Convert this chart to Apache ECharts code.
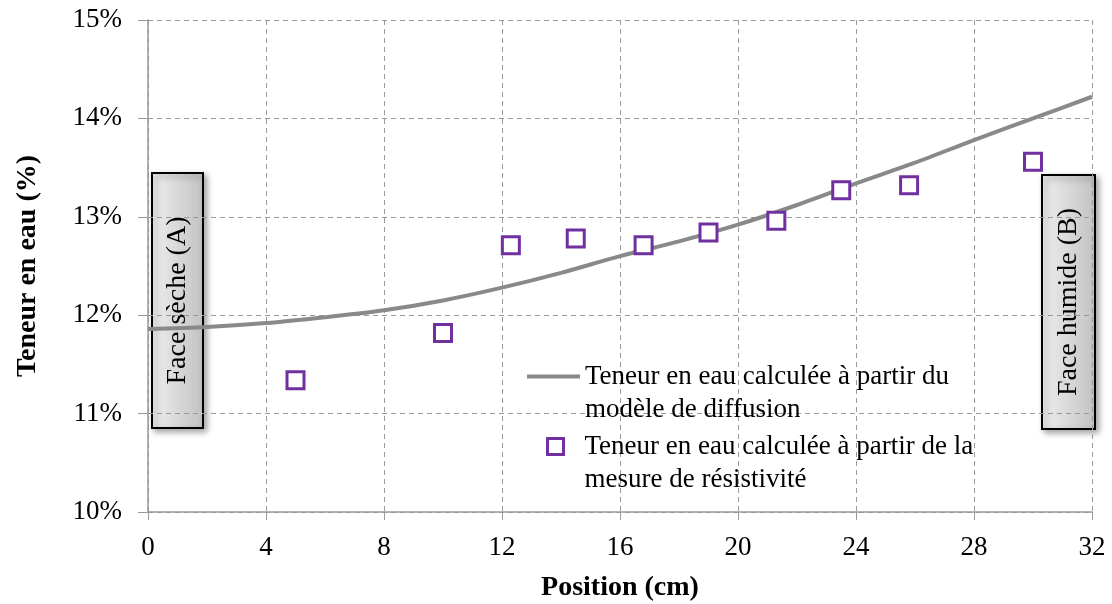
<!DOCTYPE html>
<html>
<head>
<meta charset="utf-8">
<script src="https://cdn.jsdelivr.net/npm/echarts@6/dist/echarts.min.js"></script>
<style>
html,body{margin:0;padding:0;background:#fff;}
#chart{width:1112px;height:604px;}
</style>
</head>
<body>
<div id="chart"></div>
<script>
// Diffusion-model curve (position cm, water content %)
const modelX = [0, 2, 4, 6, 8, 10, 12, 14, 16, 18, 20, 22, 24, 26, 28, 30, 32];
const modelY = [11.86, 11.88, 11.92, 11.98, 12.05, 12.15, 12.28, 12.43, 12.60, 12.75, 12.92, 13.12, 13.34, 13.55, 13.78, 14.00, 14.22];
// Resistivity measurements
const measX = [5, 10, 12.3, 14.5, 16.8, 19, 21.3, 23.5, 25.8, 30];
const measY = [11.34, 11.82, 12.71, 12.78, 12.71, 12.84, 12.96, 13.27, 13.32, 13.56];

const nameModel = 'Teneur en eau calculée à partir du\nmodèle de diffusion';
const nameMeas = 'Teneur en eau calculée à partir de la\nmesure de résistivité';
const labelA = 'Face sèche (A)';
const labelB = 'Face humide (B)';

const FONT = 'Liberation Serif';
const chart = echarts.init(document.getElementById('chart'));

function faceBox(x, y, w, h, text) {
  return {
    type: 'group',
    z: 100,
    children: [
      {
        type: 'rect',
        shape: { x: x, y: y, width: w, height: h },
        style: {
          fill: new echarts.graphic.LinearGradient(0, 0, 1, 0, [
            { offset: 0, color: '#efefef' },
            { offset: 1, color: '#c2c2c2' }
          ]),
          stroke: '#000',
          lineWidth: 2,
          shadowBlur: 6,
          shadowOffsetX: 3,
          shadowOffsetY: 3,
          shadowColor: 'rgba(0,0,0,0.35)'
        }
      },
      {
        type: 'text',
        x: x + w / 2,
        y: y + h / 2,
        rotation: Math.PI / 2,
        style: {
          text: text,
          fontFamily: FONT,
          fontSize: 28,
          fill: '#000',
          align: 'center',
          verticalAlign: 'middle'
        }
      }
    ]
  };
}

const legendText = { fontFamily: FONT, fontSize: 27, color: '#000', lineHeight: 33 };

chart.setOption({
  animation: false,
  backgroundColor: '#fff',
  grid: { left: 148, top: 20, right: 20, bottom: 92, containLabel: false, outerBoundsMode: 'none' },
  xAxis: {
    type: 'value',
    min: 0, max: 32, interval: 4,
    name: 'Position (cm)',
    nameLocation: 'middle',
    nameGap: 62,
    nameTextStyle: { fontFamily: FONT, fontSize: 28, fontWeight: 'bold', color: '#000' },
    axisLine: { show: true, onZero: false, lineStyle: { color: '#999', width: 1.5 } },
    axisTick: { show: true, inside: false, length: 8, lineStyle: { color: '#999' } },
    axisLabel: { fontFamily: FONT, fontSize: 27, color: '#000', margin: 22 },
    splitLine: { show: true, lineStyle: { color: '#999', type: [5, 4], width: 1 } }
  },
  yAxis: {
    type: 'value',
    min: 10, max: 15, interval: 1,
    name: 'Teneur en eau (%)',
    nameLocation: 'middle',
    nameGap: 106,
    nameRotate: 90,
    nameTextStyle: { fontFamily: FONT, fontSize: 28, fontWeight: 'bold', color: '#000' },
    axisLine: { show: true, onZero: false, lineStyle: { color: '#999', width: 1.5 } },
    axisTick: { show: true, inside: false, length: 10, lineStyle: { color: '#999' } },
    axisLabel: { fontFamily: FONT, fontSize: 27, color: '#000', margin: 26, formatter: '{value}%' },
    splitLine: { show: true, lineStyle: { color: '#999', type: [5, 4], width: 1 } }
  },
  legend: [
    {
      data: [{ name: nameModel, icon: 'path://M0,0L53,0L53,4L0,4Z' }],
      formatter: n => '\n' + n,
      left: 527, top: 327,
      padding: 0,
      itemWidth: 53, itemHeight: 4, itemGap: 0,
      textStyle: legendText,
      selectedMode: false
    },
    {
      data: [nameMeas],
      formatter: n => '\n' + n,
      left: 546, top: 397,
      padding: 0,
      itemWidth: 16, itemHeight: 16, itemGap: 0,
      textStyle: Object.assign({}, legendText, { padding: [0, 0, 0, 16] }),
      itemStyle: { color: '#fff', borderColor: '#7030A0', borderWidth: 3 },
      selectedMode: false
    }
  ],
  series: [
    {
      name: nameModel,
      type: 'line',
      data: modelX.map((x, i) => [x, modelY[i]]),
      smooth: 0.3,
      symbol: 'none',
      lineStyle: { color: '#898989', width: 4 },
      itemStyle: { color: '#898989' },
      z: 2
    },
    {
      name: nameMeas,
      type: 'scatter',
      data: measX.map((x, i) => [x, measY[i]]),
      symbol: 'rect',
      symbolSize: 17,
      itemStyle: { color: '#fff', borderColor: '#7030A0', borderWidth: 3, opacity: 1 },
      z: 3
    }
  ],
  graphic: [
    faceBox(152, 173, 51, 255, labelA),
    faceBox(1042, 175, 53, 254, labelB)
  ]
});
</script>
</body>
</html>
